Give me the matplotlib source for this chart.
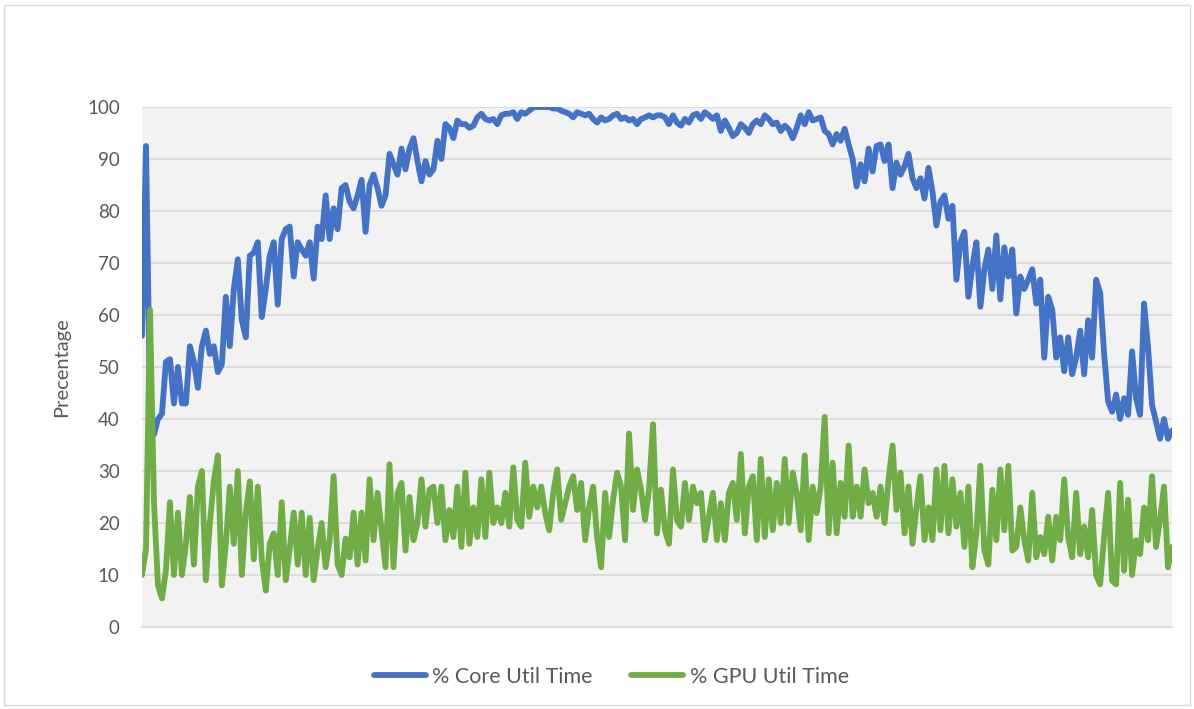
import numpy as np
import matplotlib
matplotlib.use("Agg")
import matplotlib.pyplot as plt
from matplotlib.patches import Rectangle

# utilisation samples (percent), one value per sampling step
core_util = [
    56, 92.5, 43, 37, 40, 41, 51, 51.5, 43, 50, 43, 43, 54, 51, 46, 54, 57, 52.5, 54, 49,
    50.5, 63.5, 54, 65, 70.7, 59, 55.7, 71.4, 72, 74, 59.6, 65, 71.4, 74, 62, 74.6, 76.5, 77, 67.4, 74,
    72.6, 71.4, 74, 67, 77, 74.6, 83, 74.6, 80.5, 76.5, 84.4, 85, 81.8, 80.5, 83, 86, 76, 85, 87, 84.4,
    81, 83, 91, 89, 87, 92, 88, 92, 94, 89.6, 85.7, 89.6, 87, 88, 93.5, 90, 96.7, 96, 94, 97.4,
    96.7, 96.7, 96, 96.4, 98, 98.7, 97.7, 97.4, 97.7, 96.7, 98.4, 98.7, 98.7, 99, 97.7, 99, 98.7, 99.3, 99.9, 100,
    100, 100, 100, 99.7, 99.7, 99.3, 99, 98.7, 98, 99, 98.7, 98.4, 98.7, 97.7, 97, 98, 97.4, 97.7, 98.4, 98.7,
    97.7, 98, 97.4, 97.7, 96.7, 97.7, 98, 98.4, 98, 98.4, 98.4, 98, 96.7, 98.4, 97, 96.4, 97.7, 97, 98.4, 98.7,
    97.7, 99, 98.4, 97.7, 98.4, 95.4, 97.4, 96, 94.4, 95, 96.7, 96, 95, 96.7, 97.4, 96.7, 98.4, 97.7, 96.7, 97,
    95.4, 96.4, 95.7, 94, 96, 98.4, 96.7, 99, 97.4, 97.7, 98, 95.4, 94.8, 92.8, 94.8, 93.5, 95.8, 92.8, 90, 84.7,
    89, 85.7, 92, 87.6, 92.5, 92.8, 89.6, 92.8, 84.4, 89.3, 87, 88.6, 91, 86.3, 84.4, 86.3, 82.4, 88.3, 83.7, 77.2,
    81.8, 83, 78.5, 81, 66.8, 74, 76, 63.5, 69.4, 74, 61.6, 68.8, 72.6, 65, 75.3, 63, 73, 67.4, 72.6, 60.3,
    67.4, 65, 66.8, 68.8, 62.2, 66.8, 51.8, 63.5, 61, 51.8, 55.7, 49.2, 55.7, 48.6, 51.8, 57, 48.6, 59, 51.8, 66.8,
    64.2, 52.5, 43.4, 41.4, 44.7, 40, 44, 40.8, 53, 44, 40.8, 62.2, 53.8, 42.7, 39.5, 36.2, 40, 36.2, 37.8,
]

gpu_util = [
    10, 15, 61, 24, 8, 5.5, 11, 24, 10, 22, 10, 16, 25, 12, 27, 30, 9, 20, 28, 33,
    8, 16, 27, 16, 30, 10, 22, 28, 13, 27, 13, 7, 16, 18, 10, 24, 9, 15, 22, 12,
    22, 10, 21, 9, 15, 20, 11.5, 16.7, 29, 12, 10, 17, 13.4, 22, 12, 22, 12.8, 28.4, 16.7, 25.8,
    18.6, 11.5, 31.3, 11.5, 25.8, 27.7, 14.7, 25, 16.7, 20, 28.4, 19.3, 26.4, 27, 20, 27, 16.7, 22.5, 17.3, 27,
    15.4, 29.7, 16, 23, 17.3, 28.4, 17.3, 29.7, 20, 23, 20, 25.8, 19.3, 30.7, 20.6, 19.3, 31.6, 21.2, 27, 23,
    27, 21.9, 18.6, 25.8, 30.3, 20.6, 23.8, 27, 29, 22.5, 27.7, 16.7, 23, 27, 17.3, 11.5, 25.8, 17.3, 24.5, 29.7,
    27, 16.7, 37.2, 22.5, 30.3, 26.4, 20.6, 26.4, 39, 18, 26.4, 18.6, 16, 30.3, 20.6, 19.3, 27.7, 20.6, 27, 23.8,
    25.8, 16.7, 21.2, 25.8, 16.7, 23.8, 16.7, 25.8, 27.7, 20.6, 33.3, 18, 27, 29, 16.7, 32.3, 17.3, 28.4, 18.6, 27.7,
    20, 32.3, 20, 29.7, 25.8, 18.6, 33, 16.7, 27, 21.9, 27, 40.4, 18, 31.6, 18, 27.7, 21.2, 34.9, 21.2, 27,
    21.2, 30.3, 23.8, 25.8, 21.2, 27, 20, 28.4, 34.9, 22.5, 29.7, 18, 27, 16, 23, 29, 16.7, 23, 16.7, 30.3,
    18.6, 31, 18, 28.4, 19.3, 25.8, 15.4, 27, 11.5, 18, 31, 14.7, 12, 26.4, 16.7, 30.3, 18.6, 31, 14.7, 15.4,
    23, 16.7, 12.8, 25.8, 13.4, 17.3, 14, 21.2, 12.8, 21.2, 16.7, 28.4, 17.3, 13.4, 25.8, 14, 19.3, 13.4, 22.5, 10,
    8.2, 17.3, 25.8, 8.9, 8.2, 27.7, 10.8, 24.5, 10, 16.7, 14, 23, 16.7, 29, 15.4, 20.6, 27, 11.5, 15.4,
]

series_names = ["% Core Util Time", "% GPU Util Time"]
series_colors = ["#4472C4", "#70AD47"]
yticks = list(range(0, 101, 10))

plt.rcParams['font.family'] = ['Lato', 'DejaVu Sans']

fig = plt.figure(figsize=(11.94, 7.09), dpi=100, facecolor='white')
# thin grey frame round the whole chart
fig.patches.append(Rectangle((4 / 1194, 4 / 709), 1186 / 1194, 700 / 709,
                             transform=fig.transFigure, fill=False,
                             edgecolor='#D9D9D9', linewidth=1.0))

ax = fig.add_axes([142 / 1194, 1 - 627 / 709, 1030 / 1194, 520 / 709])
ax.set_facecolor('#F2F2F2')

for vals, name, col in zip([core_util, gpu_util], series_names, series_colors):
    xs = np.linspace(0, 1, len(vals))
    ax.plot(xs, vals, color=col, linewidth=4.2, label=name,
            solid_joinstyle='round', solid_capstyle='round', zorder=3)

ax.set_xlim(0, 1)
ax.set_ylim(0, 100)
ax.set_yticks(yticks)
ax.set_xticks([])
ax.yaxis.grid(True, color='#D9D9D9', linewidth=1.3)
ax.set_axisbelow(True)
for side in ['top', 'right', 'left']:
    ax.spines[side].set_visible(False)
ax.spines['bottom'].set_color('#D9D9D9')
ax.spines['bottom'].set_linewidth(1.3)
ax.tick_params(axis='y', length=0, pad=16, labelsize=13.5, labelcolor='#595959')
ax.set_ylabel('Precentage', fontsize=14.5, color='#595959', labelpad=12)

leg = fig.legend(loc='center', bbox_to_anchor=(0.512, 1 - 677 / 709), ncol=2,
                 frameon=False, fontsize=15.5, handlelength=2.4, handletextpad=0.3,
                 columnspacing=1.8)
for t in leg.get_texts():
    t.set_color('#595959')

fig.savefig('out.png', dpi=100, facecolor='white')
